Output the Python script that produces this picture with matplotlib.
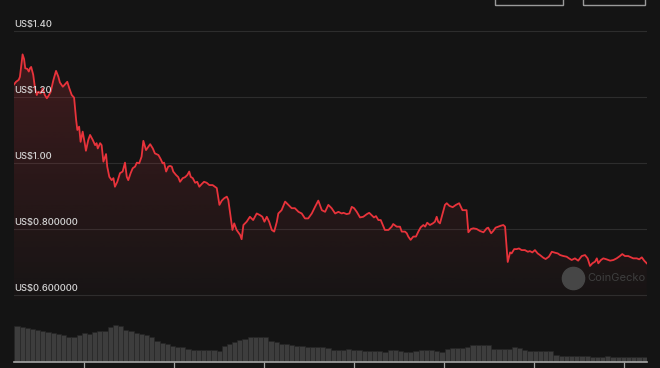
import numpy as np
import matplotlib
matplotlib.use("Agg")
import matplotlib.pyplot as plt
from matplotlib.patches import Polygon, Rectangle

# ---------------- data ----------------
days = [0.0, 0.7, 1.6, 2.0, 2.9, 3.4, 3.8, 4.5, 5.0, 5.4, 5.8, 6.5, 7.1, 7.7, 8.2, 9.0, 9.7, 10.4, 11.1, 11.7,
        12.4, 13.3, 14.2, 15.0, 15.5, 16.5, 17.2, 18.0, 18.7, 19.5, 20.3, 21.0, 21.4, 22.0, 22.5, 23.2, 23.9, 24.3,
        25.1, 25.7, 26.6, 27.4, 27.9, 28.3, 29.1, 29.6, 30.2, 31.1, 31.5, 32.2, 33.0, 33.6, 34.1, 34.9, 35.8, 36.7,
        37.5, 38.1, 38.6, 39.4, 40.1, 40.9, 41.5, 42.3, 43.1, 43.7, 44.6, 45.4, 46.0, 46.9, 47.6, 48.8, 49.6, 50.2,
        50.7, 51.4, 52.1, 52.7, 53.3, 53.8, 54.7, 55.5, 56.1, 57.0, 57.8, 58.6, 59.2, 59.7, 60.4, 61.2, 61.9, 62.6,
        63.4, 64.2, 65.1, 66.0, 67.1, 67.9, 68.5, 69.4, 70.2, 71.0, 71.9, 72.4, 73.0, 73.8, 74.4, 75.2, 76.4, 76.9,
        77.5, 78.6, 79.7, 80.8, 82.0, 83.1, 83.9, 84.6, 85.4, 86.2, 87.1, 87.9, 88.8, 89.3, 90.4, 91.6, 92.7, 93.8,
        94.9, 96.1, 97.2, 98.3, 99.4, 100.6, 101.7, 102.8, 104.0, 105.1, 106.2, 107.3, 108.5, 109.6, 110.7, 111.3,
        112.4, 113.3, 114.1, 114.9, 115.8, 116.9, 118.0, 119.2, 120.0, 120.8, 121.6, 122.3, 123.1, 123.9, 124.6,
        125.3, 126.5, 127.6, 128.1, 129.3, 130.4, 131.0, 132.1, 132.7, 133.2, 134.0, 134.9, 135.8, 136.6, 137.4,
        138.3, 138.9, 139.6, 140.5, 141.5, 142.2, 142.8, 143.3, 143.9, 144.8, 145.6, 146.2, 147.1, 148.2, 149.3,
        150.4, 151.5, 152.9, 153.5, 154.4, 155.2, 156.3, 157.4, 158.6, 159.7, 160.2, 161.2, 161.9, 162.7, 163.6,
        164.5, 165.3, 165.9, 166.8, 167.6, 168.1, 169.0, 169.8, 170.6, 171.5, 172.6, 173.6, 174.3, 175.1, 176.0,
        176.9, 177.7, 178.8, 179.6, 180.7, 181.7, 182.8, 183.7, 184.5, 185.6, 186.7, 187.5, 188.4, 189.5, 190.6,
        191.8, 192.9, 193.8, 194.6, 195.4, 196.3, 196.9, 197.4, 198.3, 199.1, 200.2, 201.4, 202.5, 203.6, 204.7,
        205.5, 206.4, 207.5, 208.5, 209.2, 210.4, 211.2, 212.1, 212.9, 213.75]
prices = [1.239, 1.247, 1.253, 1.262, 1.330, 1.316, 1.288, 1.286, 1.278, 1.288, 1.292, 1.268, 1.227, 1.207, 1.217,
          1.212, 1.227, 1.207, 1.197, 1.205, 1.217, 1.252, 1.280, 1.262, 1.245, 1.232, 1.239, 1.247, 1.227, 1.207,
          1.199, 1.131, 1.101, 1.111, 1.065, 1.096, 1.061, 1.038, 1.071, 1.086, 1.071, 1.055, 1.061, 1.045, 1.061,
          1.055, 1.005, 1.028, 0.990, 0.959, 0.949, 0.955, 0.929, 0.944, 0.970, 0.975, 1.002, 0.959, 0.949, 0.970,
          0.985, 0.990, 1.002, 1.000, 1.020, 1.068, 1.040, 1.050, 1.058, 1.045, 1.030, 1.025, 1.012, 1.000, 1.002,
          0.975, 0.990, 0.992, 0.990, 0.975, 0.965, 0.958, 0.944, 0.955, 0.958, 0.965, 0.975, 0.959, 0.955, 0.941,
          0.944, 0.929, 0.937, 0.944, 0.941, 0.934, 0.934, 0.929, 0.925, 0.874, 0.887, 0.894, 0.899, 0.889, 0.849,
          0.798, 0.818, 0.798, 0.783, 0.770, 0.813, 0.823, 0.838, 0.828, 0.848, 0.843, 0.838, 0.823, 0.838, 0.823,
          0.798, 0.793, 0.823, 0.848, 0.858, 0.884, 0.874, 0.864, 0.864, 0.853, 0.848, 0.833, 0.833, 0.848, 0.868,
          0.887, 0.858, 0.853, 0.874, 0.864, 0.848, 0.853, 0.848, 0.850, 0.846, 0.848, 0.868, 0.864, 0.853, 0.836,
          0.838, 0.846, 0.850, 0.843, 0.836, 0.840, 0.828, 0.828, 0.813, 0.798, 0.798, 0.808, 0.816, 0.808, 0.808,
          0.793, 0.793, 0.788, 0.778, 0.768, 0.778, 0.778, 0.793, 0.806, 0.813, 0.808, 0.820, 0.813, 0.818, 0.823,
          0.838, 0.823, 0.818, 0.848, 0.874, 0.879, 0.871, 0.867, 0.874, 0.879, 0.858, 0.858, 0.791, 0.801, 0.803,
          0.801, 0.795, 0.791, 0.803, 0.805, 0.788, 0.795, 0.805, 0.808, 0.811, 0.813, 0.808, 0.701, 0.730, 0.727,
          0.740, 0.740, 0.742, 0.737, 0.737, 0.732, 0.734, 0.730, 0.737, 0.727, 0.722, 0.714, 0.710, 0.717, 0.732,
          0.729, 0.727, 0.722, 0.719, 0.717, 0.712, 0.707, 0.712, 0.705, 0.719, 0.722, 0.712, 0.689, 0.697, 0.702,
          0.712, 0.697, 0.707, 0.712, 0.709, 0.705, 0.707, 0.712, 0.719, 0.725, 0.719, 0.719, 0.715, 0.712, 0.712,
          0.709, 0.715, 0.705, 0.697]

volumes = [36, 35, 33.7, 32.7, 32, 30.3, 29.3, 28.3, 27.7, 27, 25, 24.3, 27, 28.3, 27.7, 29.3, 30.3, 31, 35, 36.7,
           36, 31.7, 30.3, 28.3, 27.7, 27, 24.3, 20.3, 18.7, 17.7, 16, 15, 14.3, 12.7, 11.7, 11.7, 11.7, 11.7, 11.7,
           11, 16, 17.7, 19.3, 21.7, 22.7, 24.3, 24.3, 25, 24.3, 20.3, 19.3, 17.7, 17.7, 16.7, 16, 16, 15, 15, 14.3,
           14.3, 13.7, 12, 12, 12, 12.5, 12, 11.5, 11, 11, 11, 10.5, 9.5, 12, 12, 11, 10, 10, 10.5, 11.5, 12, 12, 11,
           9.5, 13, 14, 14, 14, 14.5, 17, 17, 17, 16.5, 13, 12.5, 12.5, 13, 14.5, 13.5, 11.5, 11, 11, 11, 11, 10.5,
           7, 6, 6, 6, 5.5, 5.5, 5.5, 4.5, 4.5, 5, 5.5, 5, 5, 5, 5, 5, 4.5, 4.5]

tick_days = [23.6, 54.1, 84.5, 114.9, 145.3, 175.7, 206.1]
grid_values = [0.6, 0.8, 1.0, 1.2, 1.4]
grid_labels = ["US$0.600000", "US$0.800000", "US$1.00", "US$1.20", "US$1.40"]

# ---------------- style ----------------
BG = "#141414"
RED = "#e8333b"
plt.rcParams["font.family"] = ["Inter", "DejaVu Sans"]

W, H = 660, 368
fig = plt.figure(figsize=(W / 100, H / 100), dpi=100, facecolor=BG)

x0, x1 = days[0], days[-1]
ybot, ytop = 0.5858, 1.4342

# price axes
ax = fig.add_axes([14 / W, (H - 300) / H, 632.7 / W, 280 / H])
ax.set_facecolor(BG)
for v in grid_values:
    ax.axhline(v, color="#2d2d2d", lw=0.8, zorder=0)
for v, lab in zip(grid_values, grid_labels):
    ax.annotate(lab, xy=(0, v), xycoords=("axes fraction", "data"), xytext=(0, 1.6),
                textcoords="offset points", ha="left", va="bottom", fontsize=6.8,
                fontweight="medium", color="#d4d4d4", zorder=5)

# gradient fill under the line
verts = [(x0, ybot)] + list(zip(days, prices)) + [(x1, ybot)]
poly = Polygon(verts, closed=True, facecolor="none", edgecolor="none")
ax.add_patch(poly)
rgba = np.zeros((256, 1, 4))
rgba[..., 0], rgba[..., 1], rgba[..., 2] = 234 / 255, 57 / 255, 67 / 255
rgba[:, 0, 3] = np.linspace(0.2, 0.015, 256)
im = ax.imshow(rgba, extent=[x0, x1, ybot, max(prices)], aspect="auto", origin="upper", zorder=1)
im.set_clip_path(poly)

ax.plot(days, prices, color=RED, lw=1.3, zorder=3, solid_joinstyle="round")
ax.set_xlim(x0, x1)
ax.set_ylim(ybot, ytop)
ax.set_xticks([])
ax.set_yticks([])
for s in ax.spines.values():
    s.set_visible(False)

# volume axes
axv = fig.add_axes([13.5 / W, (H - 361.5) / H, 633.2 / W, 41.5 / H])
axv.set_facecolor("none")
n = len(volumes)
step = (x1 - x0) / n
vx = x0 + step / 2 + step * np.arange(n)
axv.bar(vx, volumes, width=step, color="#3d3d3d", edgecolor="#262626", linewidth=0.4)
axv.set_xlim(x0 - 0.3, x1)
axv.set_ylim(0, 41.5)
for k in ["top", "left", "right"]:
    axv.spines[k].set_visible(False)
axv.spines["bottom"].set_color("#a5a5a5")
axv.spines["bottom"].set_linewidth(1.2)
axv.set_yticks([])
axv.set_xticks(tick_days)
axv.set_xticklabels([])
axv.tick_params(axis="x", direction="out", length=5, width=0.9, color="#a5a5a5")

# CoinGecko watermark
fig.lines.append(plt.Line2D([573.3 / W], [1 - 277.7 / H], marker="o", markersize=16,
                            color="#464646", transform=fig.transFigure))
fig.text(587 / W, 1 - 277.7 / H, "CoinGecko", fontsize=8, color="#3e3e3e",
         ha="left", va="center")

# date range boxes at top right (cut off)
for bx, bw in [(495, 68), (583, 62)]:
    fig.add_artist(Rectangle((bx / W, 1 - 5 / H), bw / W, 20 / H, transform=fig.transFigure,
                             fill=False, edgecolor="#9a9a9a", lw=1.0))

fig.savefig("out.png", dpi=100, facecolor=BG)
